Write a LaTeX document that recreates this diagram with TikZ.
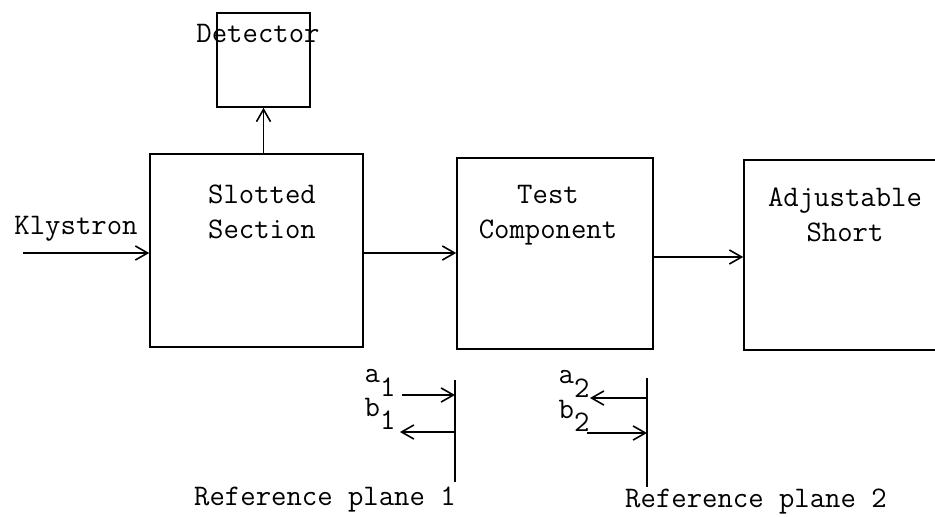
\documentclass[tikz,border=0pt]{standalone}
\usepackage{fontspec}
\usetikzlibrary{arrows.meta}
\begin{document}
\begin{tikzpicture}[line width=0.9pt,
  every node/.style={font=\ttfamily\fontsize{17}{20}\selectfont},
  block/.style={draw,rectangle,inner sep=0pt},
  caption/.style={align=center,inner sep=1pt},
  sig/.style={-{Straight Barb[length=7pt,width=8pt]}},
  plane/.style={line width=1pt}]
\useasboundingbox (0,0) rectangle (18.7,10.32);
% blocks
\node[block,minimum width=1.86cm,minimum height=1.88cm] (det) at (5.27,9.12) {};
\node[block,minimum width=4.26cm,minimum height=3.86cm] (slot) at (5.13,5.31) {};
\node[block,minimum width=3.92cm,minimum height=3.82cm] (test) at (11.10,5.25) {};
\node[block,minimum width=4.3cm,minimum height=3.80cm] (adj) at (17.03,5.22) {};
\node[caption] (detlbl) at (5.16,9.66) {Detector};
\node[caption] (slotlbl) at (5.24,6.09) {Slotted\\Section};
\node[caption] (testlbl) at (10.96,6.02) {Test\\Component};
\node[caption] (adjlbl) at (16.9,6.02) {Adjustable\\Short};
\node[caption] (kly) at (1.52,5.74) {Klystron};
% signal path
\coordinate (kin) at (0.46,5.26);
\draw[sig] (kin) -- (kin -| slot.west);
\draw[sig] (det.south |- slot.north) -- (det.south);
\draw[sig] (slot.east |- kin) -- (test.west |- kin);
\draw[sig] (test.east |- 0,5.18) -- (adj.west |- 0,5.18);
% reference planes
\coordinate (rp1t) at (9.10,2.72);
\coordinate (rp1b) at (9.10,0.68);
\coordinate (rp2t) at (12.94,2.76);
\coordinate (rp2b) at (12.94,0.58);
\draw[plane] (rp1t) -- (rp1b);
\draw[plane] (rp2t) -- (rp2b);
\coordinate (a1s) at (8.04,2.42);
\coordinate (b1e) at (8.00,1.68);
\coordinate (a2e) at (11.80,2.36);
\coordinate (b2s) at (11.74,1.66);
\draw[sig] (a1s) -- (a1s -| rp1t);
\draw[sig] (b1e -| rp1t) -- (b1e);
\draw[sig] (a2e -| rp2t) -- (a2e);
\draw[sig] (b2s) -- (b2s -| rp2t);
\node[caption] (a1) at (7.6,2.66) {a\raisebox{-0.45em}{1}};
\node[caption] (b1) at (7.6,2.04) {b\raisebox{-0.45em}{1}};
\node[caption] (a2) at (11.48,2.64) {a\raisebox{-0.45em}{2}};
\node[caption] (b2) at (11.48,2.0) {b\raisebox{-0.45em}{2}};
\node[caption] (rp1) at (6.50,0.32) {Reference plane 1};
\node[caption] (rp2) at (15.12,0.28) {Reference plane 2};
\end{tikzpicture}
\end{document}
